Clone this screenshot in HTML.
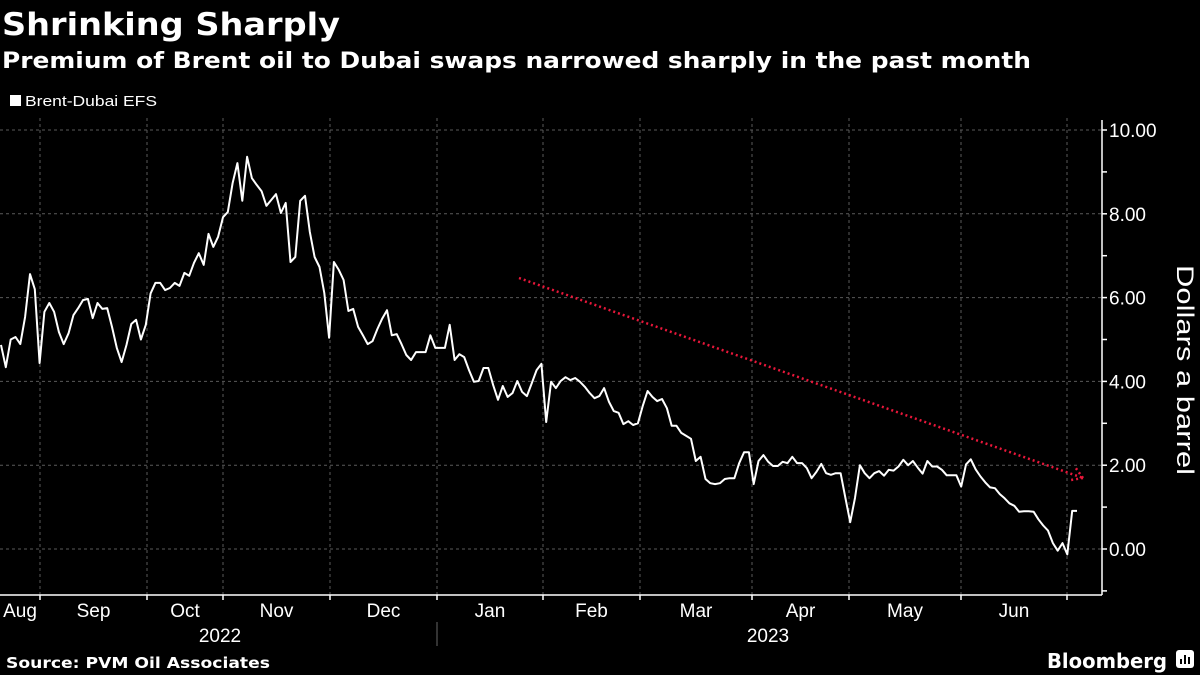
<!DOCTYPE html>
<html><head><meta charset="utf-8"><style>
html,body{margin:0;padding:0;background:#000;}
svg{display:block;}
text{fill:#fff;}
</style></head><body>
<svg id="chart" width="1200" height="675" viewBox="0 0 1200 675" xmlns="http://www.w3.org/2000/svg">
<rect width="1200" height="675" fill="#000"/>
<text x="2" y="35" font-family="DejaVu Sans, sans-serif" font-weight="bold" font-size="31" textLength="338" lengthAdjust="spacingAndGlyphs">Shrinking Sharply</text>
<text x="2" y="68" font-family="DejaVu Sans, sans-serif" font-weight="bold" font-size="22" textLength="1029" lengthAdjust="spacingAndGlyphs">Premium of Brent oil to Dubai swaps narrowed sharply in the past month</text>
<g>
<rect x="10" y="95" width="11" height="11" fill="#fff"/>
<text x="25" y="106" font-family="Liberation Sans, sans-serif" font-size="15" textLength="132" lengthAdjust="spacingAndGlyphs">Brent-Dubai EFS</text>
</g>
<g id="grid"></g>
<g id="axes"></g>
<path id="series" fill="none" stroke="#fff" stroke-width="2" stroke-linejoin="round"/>
<g stroke="#e8173a" stroke-width="2.5" stroke-dasharray="2 3" fill="none">
<line x1="519" y1="278" x2="1083" y2="478"/>
<line x1="1083" y1="478" x2="1075" y2="467"/>
<line x1="1083" y1="478" x2="1071" y2="480"/>
</g>
<text transform="translate(1177,370) rotate(90)" text-anchor="middle" font-family="Liberation Sans, sans-serif" font-size="24" textLength="210" lengthAdjust="spacingAndGlyphs">Dollars a barrel</text>
<text x="6" y="668" font-family="DejaVu Sans, sans-serif" font-weight="bold" font-size="15" textLength="264" lengthAdjust="spacingAndGlyphs">Source: PVM Oil Associates</text>
<g>
<text x="1047" y="668" font-family="DejaVu Sans, sans-serif" font-weight="bold" font-size="20" textLength="120" lengthAdjust="spacingAndGlyphs">Bloomberg</text>
<rect x="1176" y="650" width="18" height="18" rx="3" fill="#fff"/>
<rect x="1180" y="659" width="2" height="5" fill="#000"/>
<rect x="1184" y="655" width="2" height="9" fill="#000"/>
<rect x="1188" y="657" width="2" height="7" fill="#000"/>
</g>
</svg>
<script>
const values = [4.87,4.34,5.0,5.06,4.89,5.54,6.56,6.2,4.44,5.66,5.87,5.66,5.18,4.89,5.15,5.58,5.75,5.94,5.97,5.51,5.87,5.73,5.75,5.3,4.8,4.46,4.87,5.37,5.47,5.0,5.35,6.1,6.35,6.35,6.18,6.23,6.35,6.28,6.59,6.52,6.83,7.06,6.78,7.52,7.21,7.45,7.92,8.04,8.73,9.21,8.31,9.36,8.85,8.69,8.54,8.19,8.33,8.47,8.02,8.26,6.85,6.97,8.31,8.43,7.57,6.97,6.73,6.11,5.04,6.85,6.66,6.42,5.68,5.73,5.3,5.1,4.89,4.96,5.25,5.5,5.7,5.1,5.13,4.89,4.63,4.51,4.7,4.7,4.7,5.1,4.8,4.8,4.8,5.35,4.51,4.65,4.58,4.27,3.99,4.01,4.32,4.32,3.91,3.56,3.89,3.63,3.72,4.01,3.75,3.65,3.96,4.27,4.42,3.03,3.99,3.84,4.01,4.1,4.03,4.08,3.99,3.87,3.72,3.6,3.65,3.84,3.51,3.29,3.25,2.98,3.05,2.96,3.0,3.41,3.77,3.63,3.53,3.58,3.36,2.94,2.94,2.77,2.7,2.63,2.1,2.2,1.67,1.57,1.55,1.57,1.67,1.69,1.69,2.05,2.31,2.31,1.55,2.1,2.24,2.08,1.98,1.98,2.08,2.05,2.2,2.05,2.05,1.93,1.69,1.84,2.03,1.81,1.77,1.81,1.81,1.22,0.64,1.22,2.0,1.81,1.69,1.81,1.86,1.75,1.89,1.87,1.97,2.13,2.0,2.1,1.94,1.8,2.1,1.97,1.97,1.89,1.76,1.76,1.76,1.49,2.02,2.14,1.9,1.73,1.59,1.47,1.45,1.31,1.21,1.09,1.03,0.89,0.9,0.9,0.89,0.71,0.56,0.44,0.14,-0.04,0.14,-0.13,0.91,0.91];
const yTicks = [0,2,4,6,8,10];
const yTickLabels = ["0.00","2.00","4.00","6.00","8.00","10.00"];
const months = ["Aug","Sep","Oct","Nov","Dec","Jan","Feb","Mar","Apr","May","Jun"];
const years = ["2022","2023"];

const NS="http://www.w3.org/2000/svg";
const X0=1, X1=1077, AXIS_X=1102, AXIS_Y=595;
const yScale = v => 549 - v*41.9;
const xScale = i => X0 + i*(X1-X0)/(values.length-1);
const monthBounds=[0,40,147,223,330,437,543,640,752,849,961,1067];
function mk(tag,attrs,parent){const e=document.createElementNS(NS,tag);for(const k in attrs)e.setAttribute(k,attrs[k]);parent.appendChild(e);return e;}
const grid=document.getElementById('grid'), axes=document.getElementById('axes');
yTicks.forEach((t,i)=>{
  const y=yScale(t);
  const g=mk('line',{x1:0,x2:AXIS_X,y1:y,y2:y,stroke:'#5a5a5a','stroke-dasharray':'3 3','stroke-width':1},grid);
  
  
  const lb=mk('text',{x:1109,y:y+7,'font-family':'Liberation Sans, sans-serif','font-size':19},axes);
  lb.textContent=yTickLabels[i];
  
  
});
for(let v=-1;v<=10;v++){mk('line',{x1:AXIS_X,x2:AXIS_X+5,y1:yScale(v),y2:yScale(v),stroke:'#fff','stroke-width':1.5},axes);}
mk('line',{x1:AXIS_X,x2:AXIS_X,y1:120,y2:AXIS_Y,stroke:'#fff','stroke-width':1.5},axes);
mk('line',{x1:0,x2:AXIS_X,y1:AXIS_Y,y2:AXIS_Y,stroke:'#fff','stroke-width':1.5},axes);
monthBounds.slice(1).forEach(x=>{
  const g=mk('line',{x1:x,x2:x,y1:118,y2:AXIS_Y,stroke:'#5a5a5a','stroke-dasharray':'3 3','stroke-width':1},grid);
  
  
  mk('line',{x1:x,x2:x,y1:AXIS_Y,y2:AXIS_Y+5,stroke:'#fff','stroke-width':1.5},axes);
});
months.forEach((m,i)=>{
  const t=mk('text',{x:(monthBounds[i]+monthBounds[i+1])/2,y:617,'text-anchor':'middle','font-family':'Liberation Sans, sans-serif','font-size':19},axes);
  t.textContent=m;
  
  
});
mk('line',{x1:437,x2:437,y1:622,y2:646,stroke:'#666','stroke-width':1},axes);
[[220,years[0]],[768,years[1]]].forEach(([x,y])=>{
  const t=mk('text',{x:x,y:642,'text-anchor':'middle','font-family':'Liberation Sans, sans-serif','font-size':19},axes);
  t.textContent=y;
  
  
});
document.getElementById('series').setAttribute('d',values.map((v,i)=>(i?'L':'M')+xScale(i).toFixed(1)+' '+yScale(v).toFixed(1)).join(' '));
</script>
</body></html>
